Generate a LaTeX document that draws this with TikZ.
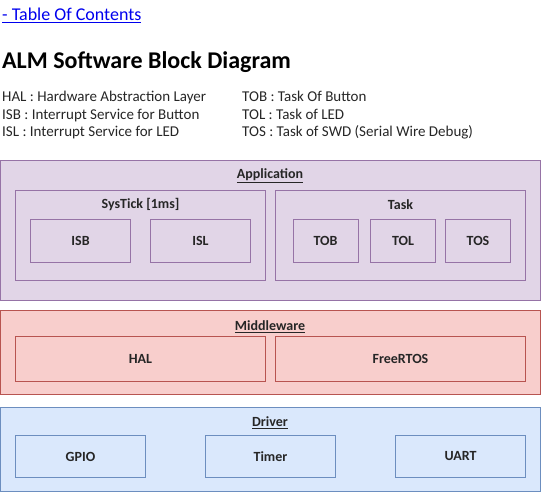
\documentclass[tikz,border=0pt]{standalone}
\usepackage{fontspec}
\setmainfont{Carlito}
\definecolor{appfill}{HTML}{E1D5E7}
\definecolor{appdraw}{HTML}{9673A6}
\definecolor{midfill}{HTML}{F8CECC}
\definecolor{middraw}{HTML}{B85450}
\definecolor{drvfill}{HTML}{DAE8FC}
\definecolor{drvdraw}{HTML}{6C8EBF}
\definecolor{linkblue}{HTML}{0000EE}
\begin{document}
\begin{tikzpicture}[x=1pt,y=-1pt,
  box/.style={draw, line width=0.8pt, anchor=north west, inner sep=0pt, outer sep=0pt},
  app/.style={box, draw=appdraw, fill=appfill},
  mid/.style={box, draw=middraw, fill=midfill},
  drv/.style={box, draw=drvdraw, fill=drvfill},
  lbl/.style={font=\fontsize{14}{16}\selectfont\bfseries, text=black!85, inner sep=0pt},
  legend/.style={font=\fontsize{15}{17}\selectfont, text=black!85, anchor=base west, inner sep=0pt}]
\useasboundingbox (0,0) rectangle (541,492);
% header
\node[anchor=base west, inner sep=0pt, text=linkblue, font=\fontsize{18}{21}\selectfont] (toc) at (2,20.5) {\underline{- Table Of Contents}};
\node[anchor=base west, inner sep=0pt, font=\fontsize{24}{28}\selectfont\bfseries] (title) at (2,68.5) {ALM Software Block Diagram};
\node[legend] (l1) at (2,102) {HAL : Hardware Abstraction Layer};
\node[legend] (l2) at (2,119.5) {ISB : Interrupt Service for Button};
\node[legend] (l3) at (2,137) {ISL : Interrupt Service for LED};
\node[legend] (r1) at (242,102) {TOB : Task Of Button};
\node[legend] (r2) at (242,119.5) {TOL : Task of LED};
\node[legend] (r3) at (242,137) {TOS : Task of SWD (Serial Wire Debug)};
% Application
\node[app, minimum width=540, minimum height=140] (application) at (0.5,160.5) {};
\node[lbl] (applbl) at (270,175.5) {\underline{Application}};
\node[app, minimum width=250, minimum height=90] (systick) at (15.5,190.5) {};
\node[lbl] (systicklbl) at (140.5,204.5) {SysTick [1ms]};
\node[app, minimum width=100, minimum height=43] (isb) at (30.5,219.5) {};
\node[lbl] at (isb.center) {ISB};
\node[app, minimum width=100, minimum height=43] (isl) at (150.5,219.5) {};
\node[lbl] at (isl.center) {ISL};
\node[app, minimum width=250, minimum height=90] (task) at (275.5,190.5) {};
\node[lbl] (tasklbl) at (400.5,204.5) {Task};
\node[app, minimum width=65, minimum height=43] (tob) at (293,219.5) {};
\node[lbl] at (tob.center) {TOB};
\node[app, minimum width=65, minimum height=43] (tol) at (370.5,219.5) {};
\node[lbl] at (tol.center) {TOL};
\node[app, minimum width=65, minimum height=43] (tos) at (445.5,219.5) {};
\node[lbl] at (tos.center) {TOS};
% Middleware
\node[mid, minimum width=540, minimum height=84] (middleware) at (0.5,310.5) {};
\node[lbl] (midlbl) at (270,326.5) {\underline{Middleware}};
\node[mid, minimum width=250, minimum height=45] (hal) at (15.5,336.5) {};
\node[lbl] at (hal.center) {HAL};
\node[mid, minimum width=250, minimum height=45] (freertos) at (275.5,336.5) {};
\node[lbl] at (freertos.center) {FreeRTOS};
% Driver
\node[drv, minimum width=540, minimum height=84] (driver) at (0.5,407.5) {};
\node[lbl] (drvlbl) at (270,422.5) {\underline{Driver}};
\node[drv, minimum width=130, minimum height=42] (gpio) at (15.5,435.5) {};
\node[lbl] at (gpio.center) {GPIO};
\node[drv, minimum width=130, minimum height=42] (timer) at (205.5,435.5) {};
\node[lbl] at (timer.center) {Timer};
\node[drv, minimum width=130, minimum height=42] (uart) at (395.5,435.5) {};
\node[lbl] at (uart.center) {UART};
\end{tikzpicture}
\end{document}
